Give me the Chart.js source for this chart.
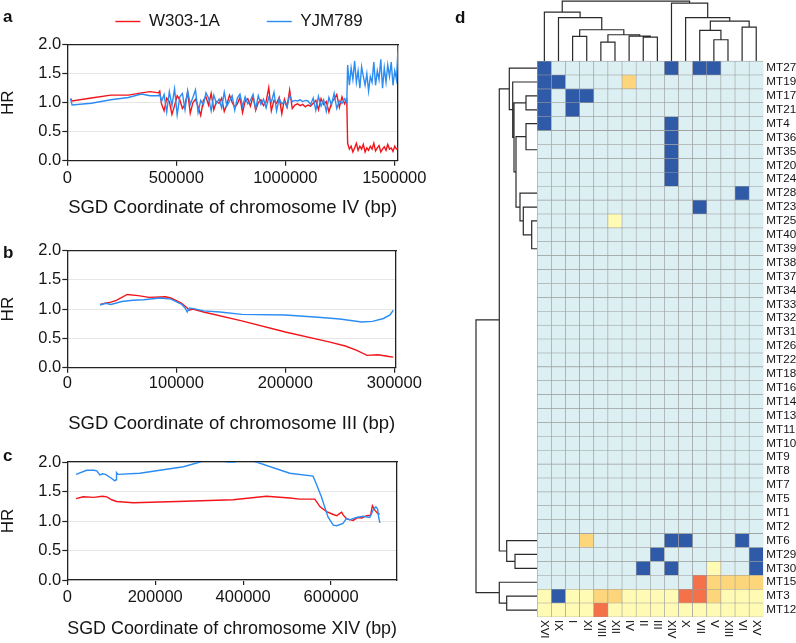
<!DOCTYPE html>
<html>
<head>
<meta charset="utf-8">
<script src="https://cdn.jsdelivr.net/npm/chart.js@4.4.1/dist/chart.umd.min.js"></script>
<style>
  body { margin: 0; background: #fff; }
  #fig { position: relative; width: 796px; height: 643px; overflow: hidden; background: #fff; }
  canvas { position: absolute; }
  .tag { position: absolute; font: bold 17px "Liberation Sans", Arial, sans-serif; line-height: 1; color: #111; }
</style>
</head>
<body>
<div id="fig">
  <canvas id="panelA" width="478" height="253" style="left:0;top:-34px"></canvas>
  <canvas id="panelB" width="430" height="197" style="left:0;top:238px"></canvas>
  <canvas id="panelC" width="430" height="190" style="left:0;top:450px"></canvas>
  <canvas id="panelD" width="356" height="643" style="left:440px;top:0"></canvas>
  <div class="tag" style="left:3px;top:8px">a</div>
  <div class="tag" style="left:3px;top:244px">b</div>
  <div class="tag" style="left:3px;top:447px">c</div>
  <div class="tag" style="left:455px;top:9px">d</div>
</div>
<script>
// ---- panel a: chromosome IV ----
const ivPos = [
  15000, 22000, 110000, 200000, 280000, 340000, 380000, 418000, 424000,
  432000, 444000, 456000, 468000, 480000, 492000, 504000, 516000, 528000, 540000, 552000, 564000,
  576000, 588000, 600000, 612000, 624000, 636000, 648000, 660000, 672000, 684000, 696000, 708000,
  720000, 732000, 744000, 756000, 768000, 780000, 792000, 804000, 816000, 828000, 840000, 852000,
  864000, 876000, 888000, 900000, 912000, 924000, 936000, 948000, 960000, 972000, 984000, 996000,
  1008000, 1020000, 1032000, 1044000, 1056000, 1068000, 1080000, 1092000, 1104000, 1116000, 1128000, 1140000,
  1152000, 1164000, 1176000, 1188000, 1200000, 1212000, 1224000, 1236000, 1248000, 1260000, 1272000, 1282000,
  1286000, 1294000, 1302000, 1310000, 1318000, 1326000, 1334000, 1342000, 1350000, 1358000,
  1366000, 1374000, 1382000, 1390000, 1398000, 1406000, 1414000, 1422000, 1430000, 1438000,
  1446000, 1454000, 1462000, 1470000, 1478000, 1486000, 1494000, 1502000, 1510000, 1518000
];
const ivW303 = [
  1.07, 1.03, 1.08, 1.13, 1.13, 1.17, 1.19, 1.17, 1.20,
  0.98, 0.86, 1.08, 1.02, 0.80, 0.95, 1.12, 1.05, 0.90, 0.97, 1.18, 0.82,
  1.00, 1.06, 0.93, 0.78, 1.04, 1.10, 0.96, 1.16, 0.88, 1.02, 0.99, 1.08,
  0.85, 0.97, 1.13, 1.01, 0.92, 0.98, 1.09, 0.83, 1.03, 1.07, 0.94, 1.11,
  0.87, 1.00, 1.05, 0.95, 1.02, 1.26, 0.86, 1.04, 0.99, 1.09, 0.81, 1.06,
  0.93, 1.22, 0.90, 0.96, 0.98, 0.95, 0.97, 0.93, 0.96, 0.94, 0.99, 1.04,
  0.88, 1.07, 0.97, 1.02, 0.84, 1.00, 1.06, 1.14, 0.92, 1.10, 0.98, 1.05,
  0.30, 0.20, 0.25, 0.15, 0.22, 0.30, 0.18, 0.25, 0.20, 0.28,
  0.15, 0.22, 0.18, 0.25, 0.20, 0.30, 0.17, 0.22, 0.26, 0.15,
  0.20, 0.24, 0.18, 0.28, 0.20, 0.22, 0.16, 0.25, 0.20, 0.22
];
const ivYJM789 = [
  1.07, 0.96, 0.99, 1.05, 1.09, 1.15, 1.12, 1.12, 1.15,
  1.02, 1.14, 0.84, 1.19, 0.95, 1.24, 0.79, 1.10, 1.16, 0.88, 1.21, 0.97,
  1.09, 1.22, 0.83, 1.04, 0.96, 1.17, 1.08, 0.86, 1.13, 0.99, 1.06, 0.91,
  1.18, 0.94, 1.03, 1.12, 0.87, 1.08, 1.15, 0.93, 1.10, 0.98, 1.04, 1.14,
  0.89, 1.12, 0.97, 1.06, 0.91, 1.09, 1.01, 1.18, 0.86, 1.07, 0.98, 1.02,
  0.92, 1.13, 1.02, 1.04, 1.03, 1.05, 1.02, 1.04, 1.03, 0.97, 1.08, 0.87,
  1.11, 0.94, 1.05, 0.85, 1.09, 0.96, 1.16, 0.90, 1.03, 0.99, 1.07, 1.00,
  1.65, 1.30, 1.60, 1.40, 1.72, 1.35, 1.55, 1.25, 1.62, 1.45,
  1.30, 1.50, 1.20, 1.45, 1.35, 1.70, 1.30, 1.55, 1.40, 1.75,
  1.25, 1.60, 1.35, 1.65, 1.45, 1.70, 1.30, 1.55, 1.40, 2.00
];
const ivTicks = [0, 500000, 1000000, 1500000];

// ---- panel b: chromosome III ----
const iiiPosW303 = [30000, 35000, 40000, 45000, 55000, 65000, 75000, 90000, 95000, 105000, 110000, 112000, 115000,
  125000, 160000, 200000, 240000, 255000, 265000, 275000, 285000, 295000, 299000];
const iiiW303 = [1.08, 1.10, 1.12, 1.15, 1.25, 1.23, 1.20, 1.21, 1.19, 1.10, 1.02, 0.98, 1.00,
  0.95, 0.80, 0.61, 0.44, 0.37, 0.30, 0.21, 0.22, 0.19, 0.18];
const iiiPosYJM = [30000, 35000, 40000, 50000, 60000, 70000, 85000, 95000, 105000, 108000, 110000, 112000, 118000,
  125000, 140000, 160000, 200000, 230000, 250000, 270000, 280000, 290000, 296000, 299000];
const iiiYJM789 = [1.07, 1.10, 1.08, 1.13, 1.15, 1.16, 1.19, 1.17, 1.08, 1.02, 0.95, 1.02, 1.00,
  0.97, 0.95, 0.91, 0.90, 0.86, 0.83, 0.78, 0.79, 0.84, 0.90, 0.98];
const iiiTicks = [0, 100000, 200000, 300000];

// ---- panel c: chromosome XIV ----
const xivPosW303 = [20000, 36000, 60000, 80000, 90000, 101000, 112000, 150000, 250000, 377000, 453000, 506000, 529000,
  563000, 575000, 590000, 605000, 613000, 620000, 624000, 628000, 635000, 650000, 661000, 670000, 681000,
  690000, 694000, 700000, 707000, 711000];
const xivW303 = [1.38, 1.41, 1.40, 1.42, 1.41, 1.36, 1.33, 1.31, 1.33, 1.36, 1.42, 1.39, 1.37,
  1.37, 1.24, 1.16, 1.11, 1.09, 1.13, 1.15, 1.10, 1.04, 1.01, 1.06, 1.05, 1.09,
  1.10, 1.26, 1.18, 1.12, 1.12];
const xivPosYJM = [20000, 44000, 60000, 67000, 74000, 80000, 87000, 101000, 108000, 111000, 112000, 115000, 165000,
  264000, 302000, 330000, 365000, 380000, 400000, 430000, 506000, 559000, 563000, 578000, 593000, 605000,
  613000, 627000, 635000, 642000, 658000, 673000, 688000, 696000, 702000, 706000, 708000, 711000];
const xivYJM789 = [1.79, 1.86, 1.86, 1.85, 1.78, 1.80, 1.79, 1.72, 1.68, 1.70, 1.82, 1.79, 1.81,
  1.92, 2.00, 2.06, 2.00, 2.00, 2.05, 2.00, 1.81, 1.76, 1.69, 1.41, 1.07, 0.93,
  0.92, 0.96, 1.04, 1.02, 1.06, 1.08, 1.06, 1.19, 1.24, 1.20, 1.08, 0.97];
const xivTicks = [0, 200000, 400000, 600000];

const hrTicks = [0, 0.5, 1, 1.5, 2];

// ---- panel d: heatmap ----
const colNames = ['XVI', 'IX', 'I', 'XI', 'VIII', 'XII', 'IV', 'II', 'III', 'XIV', 'X', 'VII', 'V', 'XIII', 'VI', 'XV'];
const rowNames = ['MT27', 'MT19', 'MT17', 'MT21', 'MT4', 'MT36', 'MT35', 'MT20', 'MT24', 'MT28', 'MT23', 'MT25',
  'MT40', 'MT39', 'MT38', 'MT37', 'MT34', 'MT33', 'MT32', 'MT31', 'MT26', 'MT22', 'MT18', 'MT16', 'MT14',
  'MT13', 'MT11', 'MT10', 'MT9', 'MT8', 'MT7', 'MT5', 'MT1', 'MT2', 'MT6', 'MT29', 'MT30', 'MT15', 'MT3', 'MT12'];
// -1 loss, 0 none, 1..3 increasing gain
const heat = [
  [-1, 0, 0, 0, 0, 0, 0, 0, 0, -1, 0, -1, -1, 0, 0, 0],
  [-1, -1, 0, 0, 0, 0, 2, 0, 0, 0, 0, 0, 0, 0, 0, 0],
  [-1, 0, -1, -1, 0, 0, 0, 0, 0, 0, 0, 0, 0, 0, 0, 0],
  [-1, 0, -1, 0, 0, 0, 0, 0, 0, 0, 0, 0, 0, 0, 0, 0],
  [-1, 0, 0, 0, 0, 0, 0, 0, 0, -1, 0, 0, 0, 0, 0, 0],
  [0, 0, 0, 0, 0, 0, 0, 0, 0, -1, 0, 0, 0, 0, 0, 0],
  [0, 0, 0, 0, 0, 0, 0, 0, 0, -1, 0, 0, 0, 0, 0, 0],
  [0, 0, 0, 0, 0, 0, 0, 0, 0, -1, 0, 0, 0, 0, 0, 0],
  [0, 0, 0, 0, 0, 0, 0, 0, 0, -1, 0, 0, 0, 0, 0, 0],
  [0, 0, 0, 0, 0, 0, 0, 0, 0, 0, 0, 0, 0, 0, -1, 0],
  [0, 0, 0, 0, 0, 0, 0, 0, 0, 0, 0, -1, 0, 0, 0, 0],
  [0, 0, 0, 0, 0, 1, 0, 0, 0, 0, 0, 0, 0, 0, 0, 0],
  [0, 0, 0, 0, 0, 0, 0, 0, 0, 0, 0, 0, 0, 0, 0, 0],
  [0, 0, 0, 0, 0, 0, 0, 0, 0, 0, 0, 0, 0, 0, 0, 0],
  [0, 0, 0, 0, 0, 0, 0, 0, 0, 0, 0, 0, 0, 0, 0, 0],
  [0, 0, 0, 0, 0, 0, 0, 0, 0, 0, 0, 0, 0, 0, 0, 0],
  [0, 0, 0, 0, 0, 0, 0, 0, 0, 0, 0, 0, 0, 0, 0, 0],
  [0, 0, 0, 0, 0, 0, 0, 0, 0, 0, 0, 0, 0, 0, 0, 0],
  [0, 0, 0, 0, 0, 0, 0, 0, 0, 0, 0, 0, 0, 0, 0, 0],
  [0, 0, 0, 0, 0, 0, 0, 0, 0, 0, 0, 0, 0, 0, 0, 0],
  [0, 0, 0, 0, 0, 0, 0, 0, 0, 0, 0, 0, 0, 0, 0, 0],
  [0, 0, 0, 0, 0, 0, 0, 0, 0, 0, 0, 0, 0, 0, 0, 0],
  [0, 0, 0, 0, 0, 0, 0, 0, 0, 0, 0, 0, 0, 0, 0, 0],
  [0, 0, 0, 0, 0, 0, 0, 0, 0, 0, 0, 0, 0, 0, 0, 0],
  [0, 0, 0, 0, 0, 0, 0, 0, 0, 0, 0, 0, 0, 0, 0, 0],
  [0, 0, 0, 0, 0, 0, 0, 0, 0, 0, 0, 0, 0, 0, 0, 0],
  [0, 0, 0, 0, 0, 0, 0, 0, 0, 0, 0, 0, 0, 0, 0, 0],
  [0, 0, 0, 0, 0, 0, 0, 0, 0, 0, 0, 0, 0, 0, 0, 0],
  [0, 0, 0, 0, 0, 0, 0, 0, 0, 0, 0, 0, 0, 0, 0, 0],
  [0, 0, 0, 0, 0, 0, 0, 0, 0, 0, 0, 0, 0, 0, 0, 0],
  [0, 0, 0, 0, 0, 0, 0, 0, 0, 0, 0, 0, 0, 0, 0, 0],
  [0, 0, 0, 0, 0, 0, 0, 0, 0, 0, 0, 0, 0, 0, 0, 0],
  [0, 0, 0, 0, 0, 0, 0, 0, 0, 0, 0, 0, 0, 0, 0, 0],
  [0, 0, 0, 0, 0, 0, 0, 0, 0, 0, 0, 0, 0, 0, 0, 0],
  [0, 0, 0, 2, 0, 0, 0, 0, 0, -1, -1, 0, 0, 0, -1, 0],
  [0, 0, 0, 0, 0, 0, 0, 0, -1, 0, 0, 0, 0, 0, 0, -1],
  [0, 0, 0, 0, 0, 0, 0, -1, 0, -1, 0, 0, 1, 0, 0, -1],
  [0, 0, 0, 0, 0, 0, 0, 0, 0, 0, 0, 3, 2, 2, 2, 2],
  [1, -1, 1, 1, 2, 2, 1, 1, 1, 1, 3, 3, 2, 1, 1, 1],
  [1, 1, 1, 1, 3, 1, 1, 1, 1, 1, 1, 1, 1, 1, 1, 1]
];

// dendrograms, hclust style: negative = leaf (1-based), positive = earlier merge
const rowMergeA = [-3, -8, -7, -6, -5,
  -33, -32, -31, -30, -29, -28, -27, -26, -25, -24, -23, -22, -21, -20, -19, -18, -17, -16, -15, -14, -13,
  -12, -11, -10, 5, 1, -2, -1, -36, -35, 33, -39, -38, 36];
const rowMergeB = [-4, -9, 2, 3, 4,
  -34, 6, 7, 8, 9, 10, 11, 12, 13, 14, 15, 16, 17, 18, 19, 20, 21, 22, 23, 24, 25,
  26, 27, 28, 29, 30, 31, 32, -37, 34, 35, -40, 37, 38];
const rowMergeH = [1.13, 0, 0, 0, 1.13,
  0, 0, 0, 0, 0, 0, 0, 0, 0, 0, 0, 0, 0, 0, 0, 0, 0, 0, 0, 0, 0,
  0.56, 1.4, 1.73, 2.13, 2.33, 2.46, 2.8, 2.23, 3.06, 3.8, 3.06, 3.8, 6.13];
const colMergeA = [-8, -7, -5, 3, -3, 5, -2, -1, -13, -12, -15, 10, -11, -10, 8];
const colMergeB = [-9, 1, -6, 2, -4, 4, 6, 7, -14, 9, -16, 11, 12, 13, 14];
const colMergeH = [2.4, 2.5, 1.9, 2.64, 2.47, 3.14, 4.34, 4.9, 2.14, 3.07, 3.4, 4.0, 4.34, 5.8, 6.0];

// ---- styling ----
const FONT = '"Liberation Sans", Arial, Helvetica, sans-serif';
const INK = '#151515';
const RED = '#f2151b';
const BLUE = '#2b8df2';
const HEAT_COLORS = { '-1': '#2f5aa8', '0': '#dcf0f4', '1': '#fffbb4', '2': '#fdd67c', '3': '#f4714a' };
const ROW_UNIT = 0.708;  // heatmap columns per dendrogram height unit
const COL_UNIT = 0.72;   // heatmap rows per dendrogram height unit

Chart.defaults.font.family = FONT;
Chart.defaults.color = INK;

function xy(pos, vals) {
  return pos.map((x, i) => ({ x, y: vals[i] }));
}

function linePanel(id, o) {
  const axisLine = { color: '#222', width: 1.3 };
  return new Chart(document.getElementById(id), {
    type: 'line',
    data: {
      datasets: [
        { label: 'W303-1A', data: o.red, borderColor: RED, backgroundColor: RED, borderWidth: 1.4,
          pointRadius: 0, order: 1, xAxisID: 'x', yAxisID: 'y' },
        { label: 'YJM789', data: o.blue, borderColor: BLUE, backgroundColor: BLUE, borderWidth: 1.4,
          pointRadius: 0, order: 0, xAxisID: 'x', yAxisID: 'y' }
      ]
    },
    options: {
      responsive: false,
      animation: false,
      events: [],
      layout: { padding: 0 },
      plugins: {
        tooltip: { enabled: false },
        legend: o.legend ? {
          display: true,
          position: 'top',
          labels: {
            usePointStyle: true, pointStyle: 'line', pointStyleWidth: 25,
            padding: 47, color: INK, font: { size: 17 },
            sort: (a, b) => a.datasetIndex - b.datasetIndex
          }
        } : { display: false }
      },
      scales: {
        x: {
          type: 'linear', position: 'bottom', min: 0, max: o.xMax,
          afterBuildTicks: s => { s.ticks = o.xTicks.map(v => ({ value: v })); },
          ticks: { callback: v => String(v), font: { size: 16.5 }, color: INK, padding: o.tickPad,
                   maxRotation: 0, autoSkip: false },
          grid: { display: true, drawOnChartArea: false, tickLength: 5, color: '#222', lineWidth: 1.2 },
          border: axisLine,
          title: { display: true, text: o.xTitle, font: { size: 18.5 }, color: INK, padding: { top: 0, bottom: 0 } },
          afterFit: s => { s.height = o.bottomH; }
        },
        y: {
          type: 'linear', position: 'left', min: 0, max: 2,
          afterBuildTicks: s => { s.ticks = hrTicks.map(v => ({ value: v })); },
          ticks: { callback: v => v.toFixed(1), font: { size: 16.5 }, color: INK, padding: 1 },
          grid: { color: '#e6e6e6', lineWidth: 1, tickColor: '#222', tickLength: 5, tickWidth: 1.2 },
          border: axisLine,
          title: { display: true, text: 'HR', font: { size: 17 }, color: INK, padding: { top: -2, bottom: 0 } },
          afterFit: s => { s.width = 67.3; }
        },
        xTop: {
          type: 'linear', position: 'top', display: true,
          ticks: { display: false }, grid: { display: false, drawTicks: false }, border: axisLine,
          afterFit: s => { s.height = o.topH; }
        },
        yRight: {
          type: 'linear', position: 'right', display: true,
          ticks: { display: false }, grid: { display: false, drawTicks: false }, border: axisLine,
          afterFit: s => { s.width = o.rightW; }
        }
      }
    }
  });
}

linePanel('panelA', {
  red: xy(ivPos, ivW303), blue: xy(ivPos, ivYJM789), xMax: 1517000, xTicks: ivTicks,
  xTitle: 'SGD Coordinate of chromosome IV (bp)', legend: true,
  topH: 4.7, rightW: 80, bottomH: 58.3, tickPad: 2.6
});
linePanel('panelB', {
  red: xy(iiiPosW303, iiiW303), blue: xy(iiiPosYJM, iiiYJM789), xMax: 301500, xTicks: iiiTicks,
  xTitle: 'SGD Coordinate of chromosome III (bp)', legend: false,
  topH: 12.5, rightW: 34, bottomH: 67.3, tickPad: 0.5
});
linePanel('panelC', {
  red: xy(xivPosW303, xivW303), blue: xy(xivPosYJM, xivYJM789), xMax: 750000, xTicks: xivTicks,
  xTitle: 'SGD Coordinate of chromosome XIV (bp)', legend: false,
  topH: 12, rightW: 33, bottomH: 60, tickPad: 2.6
});

// ---- heatmap ----
function treeLinks(mergeA, mergeB, mergeH) {
  const pos = [], hgt = [], links = [];
  const node = id => id < 0 ? { p: -id - 0.5, h: 0 } : { p: pos[id - 1], h: hgt[id - 1] };
  mergeA.forEach((a, i) => {
    const na = node(a), nb = node(mergeB[i]);
    pos.push((na.p + nb.p) / 2);
    hgt.push(mergeH[i]);
    if (mergeH[i] > 0) links.push([na, nb, mergeH[i]]);
  });
  return links;
}

const rowDendro = [];
treeLinks(rowMergeA, rowMergeB, rowMergeH).forEach(([a, b, h]) => {
  rowDendro.push(
    { x: -a.h * ROW_UNIT, y: a.p }, { x: -h * ROW_UNIT, y: a.p },
    { x: -h * ROW_UNIT, y: b.p }, { x: -b.h * ROW_UNIT, y: b.p }, { x: 0, y: null });
});
const colDendro = [];
treeLinks(colMergeA, colMergeB, colMergeH).forEach(([a, b, h]) => {
  colDendro.push(
    { x: a.p, y: -a.h * COL_UNIT }, { x: a.p, y: -h * COL_UNIT },
    { x: b.p, y: -h * COL_UNIT }, { x: b.p, y: -b.h * COL_UNIT }, { x: b.p, y: null });
});

const cells = [];
heat.forEach((row, r) => row.forEach((v, c) => cells.push({ y: r + 0.5, x: [c, c + 1], v })));

const colLabelPlugin = {
  id: 'colLabels',
  afterDraw(chart) {
    const { ctx, chartArea } = chart;
    const xs = chart.scales.x;
    ctx.save();
    ctx.font = '11.5px ' + FONT;
    ctx.fillStyle = INK;
    ctx.textAlign = 'left';
    ctx.textBaseline = 'middle';
    colNames.forEach((name, i) => {
      ctx.save();
      ctx.translate(xs.getPixelForValue(i + 0.5), chartArea.bottom + 3);
      ctx.rotate(Math.PI / 2);
      ctx.fillText(name, 0, 0);
      ctx.restore();
    });
    ctx.restore();
  }
};

new Chart(document.getElementById('panelD'), {
  type: 'bar',
  data: {
    datasets: [
      {
        type: 'bar', indexAxis: 'y', data: cells,
        backgroundColor: c => c.raw ? HEAT_COLORS[String(c.raw.v)] : HEAT_COLORS['0'],
        borderColor: '#9b9b9b', borderWidth: 0.6, borderSkipped: false,
        barPercentage: 1, categoryPercentage: 1, xAxisID: 'x', yAxisID: 'y'
      },
      { type: 'line', data: rowDendro, borderColor: '#2a2a2a', borderWidth: 1.2, pointRadius: 0,
        spanGaps: false, clip: false, xAxisID: 'x', yAxisID: 'y' },
      { type: 'line', data: colDendro, borderColor: '#2a2a2a', borderWidth: 1.2, pointRadius: 0,
        spanGaps: false, clip: false, xAxisID: 'x', yAxisID: 'y' }
    ]
  },
  options: {
    responsive: false,
    animation: false,
    events: [],
    layout: { padding: { left: 35.15, right: 0, top: 0, bottom: 26 } },
    plugins: { legend: { display: false }, tooltip: { enabled: false } },
    scales: {
      x: { type: 'linear', min: -4.4, max: 16, display: false, offset: false },
      y: {
        type: 'linear', position: 'right', min: -4.4, max: 40, reverse: true, offset: false,
        afterBuildTicks: s => { s.ticks = rowNames.map((n, i) => ({ value: i + 0.5 })); },
        ticks: { callback: (v, i) => rowNames[i], font: { size: 11.7 }, color: INK, padding: 3, autoSkip: false },
        grid: { display: false, drawTicks: false },
        border: { display: false },
        afterFit: s => { s.width = 32.7; s.paddingTop = 0; s.paddingBottom = 0; }
      }
    }
  },
  plugins: [colLabelPlugin]
});
</script>
</body>
</html>
